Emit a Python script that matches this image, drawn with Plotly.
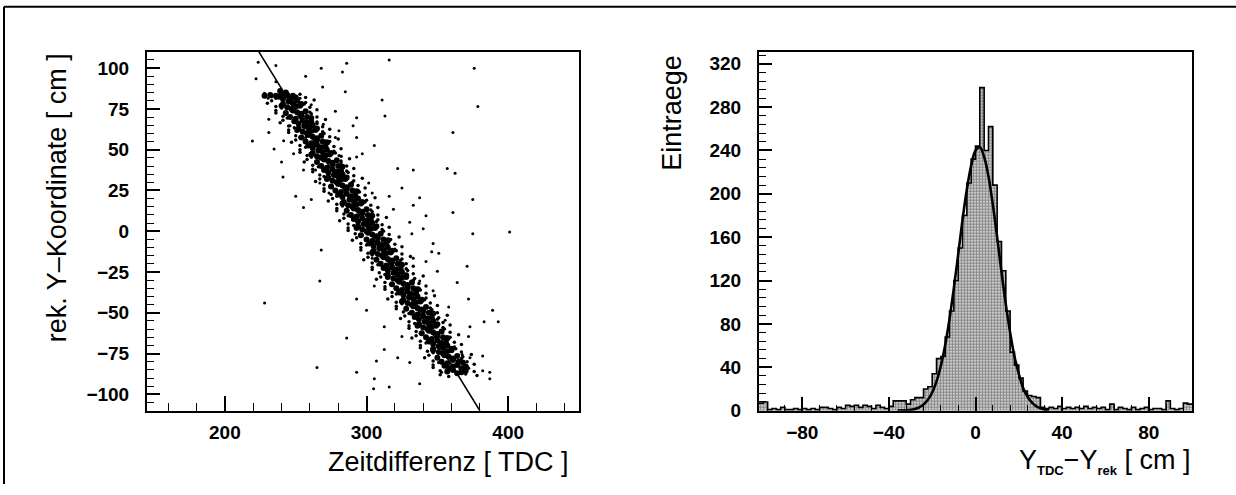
import plotly.graph_objects as go

# ---------------- left panel: scatter + fit line ----------------
fit_x = [224, 380]
fit_y = [110, -110]

# dense core of the band
core_x = [228, 232, 236, 240, 244, 248, 239, 243,
          238, 241, 244, 247, 250, 241, 245, 248, 251, 254, 240, 244, 247, 250, 253,
          243, 248, 251, 254, 257, 246, 250, 254, 258, 261, 249, 252, 255, 258, 261,
          252, 256, 259, 262, 265, 251, 255, 258, 261, 264, 254, 259, 262, 265, 268,
          257, 261, 265, 269, 272, 259, 262, 265, 268, 271, 262, 266, 269, 272, 275,
          261, 265, 268, 271, 274, 265, 270, 273, 276, 279, 268, 272, 276, 280, 283,
          270, 273, 276, 279, 282, 273, 277, 280, 283, 286, 272, 276, 279, 282, 285,
          275, 280, 283, 286, 289, 278, 282, 286, 290, 293, 280, 283, 286, 289, 292,
          284, 288, 291, 294, 297, 283, 287, 290, 293, 296, 286, 291, 294, 297, 300,
          289, 293, 297, 301, 304, 291, 294, 297, 300, 303, 294, 298, 301, 304, 307,
          293, 297, 300, 303, 306, 296, 301, 304, 307, 310, 300, 304, 308, 312, 315,
          302, 305, 308, 311, 314, 305, 309, 312, 315, 318, 304, 308, 311, 314, 317,
          307, 312, 315, 318, 321, 310, 314, 318, 322, 325, 312, 315, 318, 321, 324,
          315, 319, 322, 325, 328, 315, 319, 322, 325, 328, 318, 323, 326, 329, 332,
          321, 325, 329, 333, 336, 323, 326, 329, 332, 335, 326, 330, 333, 336, 339,
          325, 329, 332, 335, 338, 328, 333, 336, 339, 342, 332, 336, 340, 344, 347,
          334, 337, 340, 343, 346, 337, 341, 344, 347, 350, 336, 340, 343, 346, 349,
          339, 344, 347, 350, 353, 342, 346, 350, 354, 357, 344, 347, 350, 353, 356,
          347, 351, 354, 357, 360, 347, 351, 354, 357, 360, 350, 355, 358, 361, 364,
          353, 357, 361, 365, 368, 355, 358, 361, 364, 367, 370, 357, 361, 364, 367, 370]
core_y = [83, 83.5, 83, 84, 83.5, 83, 86, 85,
          82.5, 81, 83, 81.5, 82, 78, 79.5, 78.5, 80, 78, 77, 76, 75, 76.5, 77,
          72.5, 74, 73, 72, 73.5, 70, 69, 71, 70, 69.5, 67.5, 66, 68, 66.5, 67,
          63, 64.5, 63.5, 65, 63, 62, 61, 60, 61.5, 62, 57.5, 59, 58, 57, 58.5,
          55, 54, 56, 55, 54.5, 52.5, 51, 53, 51.5, 52, 48, 49.5, 48.5, 50, 48,
          47, 46, 45, 46.5, 47, 42.5, 44, 43, 42, 43.5, 40, 39, 41, 40, 39.5,
          37.5, 36, 38, 36.5, 37, 33, 34.5, 33.5, 35, 33, 32, 31, 30, 31.5, 32,
          27.5, 29, 28, 27, 28.5, 25, 24, 26, 25, 24.5, 22.5, 21, 23, 21.5, 22,
          18, 19.5, 18.5, 20, 18, 17, 16, 15, 16.5, 17, 12.5, 14, 13, 12, 13.5,
          10, 9, 11, 10, 9.5, 7.5, 6, 8, 6.5, 7, 3, 4.5, 3.5, 5, 3,
          2, 1, 0, 1.5, 2, -2.5, -1, -2, -3, -1.5, -5, -6, -4, -5, -5.5,
          -7.5, -9, -7, -8.5, -8, -12, -10.5, -11.5, -10, -12, -13, -14, -15, -13.5, -13,
          -17.5, -16, -17, -18, -16.5, -20, -21, -19, -20, -20.5, -22.5, -24, -22, -23.5, -23,
          -27, -25.5, -26.5, -25, -27, -28, -29, -30, -28.5, -28, -32.5, -31, -32, -33, -31.5,
          -35, -36, -34, -35, -35.5, -37.5, -39, -37, -38.5, -38, -42, -40.5, -41.5, -40, -42,
          -43, -44, -45, -43.5, -43, -47.5, -46, -47, -48, -46.5, -50, -51, -49, -50, -50.5,
          -52.5, -54, -52, -53.5, -53, -57, -55.5, -56.5, -55, -57, -58, -59, -60, -58.5, -58,
          -62.5, -61, -62, -63, -61.5, -65, -66, -64, -65, -65.5, -67.5, -69, -67, -68.5, -68,
          -72, -70.5, -71.5, -70, -72, -73, -74, -75, -73.5, -73, -77.5, -76, -77, -78, -76.5,
          -80, -81, -79, -80, -80.5, -82.5, -84, -83, -82, -84, -83, -86, -85, -87, -86.5, -85.5]

# fuzzy halo around the band
halo_x = [228, 233, 253, 257, 233, 236, 257, 263, 230, 236, 256, 260, 236, 240, 260, 265,
          236, 241, 261, 265, 241, 244, 265, 271, 239, 245, 265, 269, 245, 249, 269, 274,
          245, 250, 270, 274, 250, 253, 274, 280, 247, 253, 273, 277, 253, 257, 277, 282,
          253, 258, 278, 282, 258, 261, 282, 288, 256, 262, 282, 286, 262, 266, 286, 291,
          262, 267, 287, 291, 267, 270, 291, 297, 264, 270, 290, 294, 270, 274, 294, 299,
          270, 275, 295, 299, 276, 279, 300, 306, 273, 279, 299, 303, 279, 283, 303, 308,
          279, 284, 304, 308, 284, 287, 308, 314, 281, 287, 307, 311, 287, 291, 311, 316,
          287, 292, 312, 316, 293, 296, 317, 323, 290, 296, 316, 320, 296, 300, 320, 325,
          296, 301, 321, 325, 301, 304, 325, 331, 298, 304, 324, 328, 304, 308, 328, 333,
          304, 309, 329, 333, 310, 313, 334, 340, 307, 313, 333, 337, 313, 317, 337, 342,
          313, 318, 338, 342, 318, 321, 342, 348, 315, 321, 341, 345, 321, 325, 345, 350,
          321, 326, 346, 350, 327, 330, 351, 357, 324, 330, 350, 354, 330, 334, 354, 359,
          330, 335, 355, 359, 335, 338, 359, 365, 332, 338, 358, 362, 338, 342, 362, 367,
          338, 343, 363, 367, 344, 347, 368, 374, 341, 347, 367, 371, 347, 351, 371, 376,
          347, 352, 372, 376, 352, 358, 370, 378]
halo_y = [84.5, 82.5, 84, 82, 80, 81.5, 79, 80.5, 78.5, 76.5, 78, 76, 74, 75.5, 73, 74.5,
          72.5, 70.5, 72, 70, 68, 69.5, 67, 68.5, 66.5, 64.5, 66, 64, 62, 63.5, 61, 62.5,
          60.5, 58.5, 60, 58, 56, 57.5, 55, 56.5, 54.5, 52.5, 54, 52, 50, 51.5, 49, 50.5,
          48.5, 46.5, 48, 46, 44, 45.5, 43, 44.5, 42.5, 40.5, 42, 40, 38, 39.5, 37, 38.5,
          36.5, 34.5, 36, 34, 32, 33.5, 31, 32.5, 30.5, 28.5, 30, 28, 26, 27.5, 25, 26.5,
          24.5, 22.5, 24, 22, 20, 21.5, 19, 20.5, 18.5, 16.5, 18, 16, 14, 15.5, 13, 14.5,
          12.5, 10.5, 12, 10, 8, 9.5, 7, 8.5, 6.5, 4.5, 6, 4, 2, 3.5, 1, 2.5,
          0.5, -1.5, 0, -2, -4, -2.5, -5, -3.5, -5.5, -7.5, -6, -8, -10, -8.5, -11, -9.5,
          -11.5, -13.5, -12, -14, -16, -14.5, -17, -15.5, -17.5, -19.5, -18, -20, -22, -20.5, -23, -21.5,
          -23.5, -25.5, -24, -26, -28, -26.5, -29, -27.5, -29.5, -31.5, -30, -32, -34, -32.5, -35, -33.5,
          -35.5, -37.5, -36, -38, -40, -38.5, -41, -39.5, -41.5, -43.5, -42, -44, -46, -44.5, -47, -45.5,
          -47.5, -49.5, -48, -50, -52, -50.5, -53, -51.5, -53.5, -55.5, -54, -56, -58, -56.5, -59, -57.5,
          -59.5, -61.5, -60, -62, -64, -62.5, -65, -63.5, -65.5, -67.5, -66, -68, -70, -68.5, -71, -69.5,
          -71.5, -73.5, -72, -74, -76, -74.5, -77, -75.5, -77.5, -79.5, -78, -80, -82, -80.5, -83, -81.5,
          -83.5, -85.5, -84, -86, -88, -89, -87.5, -88.5]

# isolated points away from the band
out_x = [376, 378.6, 316, 286, 268, 283, 257, 269, 285, 311, 313, 293, 290.5, 361, 219.4,
         305.5, 234.7, 240, 241, 231, 231, 255.5, 357, 362.5, 333, 322, 325, 337.5, 375,
         361, 342, 333, 375, 401, 332, 347, 351, 371, 268, 267, 293, 228, 372, 389, 393,
         383, 373, 372, 312.5, 286, 312.5, 373, 382, 307, 293, 305.5, 305, 337.5, 265, 387,
         387, 353, 330.5, 322, 344, 325, 355.5, 347, 300, 305.5, 337.5, 347, 342, 333, 346,
         319, 304, 297, 330.5, 340, 319, 316, 304, 301.5, 293, 273.5, 261, 250, 255.5, 267,
         264, 280.5, 293, 293, 278, 297, 241.5, 246, 230.5, 222, 223.5, 236, 236, 253, 261,
         278, 269.5, 280.5, 257, 261, 248.5, 364, 350, 358, 316, 382, 367.5]
out_y = [100, 76.5, 105, 103, 100, 97.6, 95, 88.5, 85.5, 80.5, 70.6, 69.6, 64.6, 60.6, 55.3,
         52.6, 50.4, 42.4, 33.3, 60.6, 68.6, 37.5, 38.5, 35.5, 37.5, 38.5, 26.5, 20.5, 19.5,
         11.5, 9.5, 16, -1.5, -0.5, -1.5, -7.5, -13.5, -21.5, -11.5, -30.5, -41.5, -44, -41.5, -48.5, -55.5,
         -55.5, -58.5, -64.5, -58.5, -65.5, -72.5, -77.5, -76.5, -79.5, -86.5, -90.5, -96.5, -93.5, -83.5, -90.5,
         -86.5, -86.5, -80.5, -77.5, -68.5, -64.5, -54.5, -50.5, -48.5, -33.5, -30.5, -36.5, -18.5, -16.5, -12.5,
         -28.5, -16.5, -2.5, 5.5, 1.5, 13.5, 21.5, 23.5, 29.5, 21.5, 23.5, 19.5, 21.5, 14.5, 29.5,
         37.5, 46.5, 45.5, 57.5, 57.5, 47.5, 55.5, 64.6, 81.5, 93.5, 103.6, 101.6, 91.6, 81.5, 77.5,
         73.6, 65.6, 61.6, 57.5, 45.5, 47.5, -31.5, -24.5, -46.5, -95.5, -85.5, -75.5]

# ---------------- right panel: residual histogram + gauss fit ----------------
hist_start = -100
hist_width = 2
hist_counts = [7, 8, 1, 2, 1, 3, 1, 1, 2, 1,
               2, 1, 2, 1, 3, 3, 2, 1, 3, 2,
               5, 4, 5, 3, 5, 4, 2, 5, 3, 2,
               4, 9, 9, 9, 6, 10, 12, 12, 20, 22,
               34, 48, 50, 68, 92, 120, 150, 180, 210, 232,
               244, 298, 240, 262, 208, 156, 129, 92, 54, 42,
               30, 18, 14, 13, 12, 3, 2, 3, 2, 4,
               2, 3, 2, 3, 2, 4, 2, 3, 2, 3,
               1, 6, 1, 3, 2, 1, 3, 1, 2, 3,
               1, 2, 2, 1, 9, 2, 1, 2, 7, 6]

curve_x = [-36, -30, -28, -26, -24, -22, -20, -18, -16, -14, -12, -10, -8, -6, -4, -2, 0,
           2, 4, 6, 8, 10, 12, 14, 16, 18, 20, 22, 24, 26, 28, 30, 34]
curve_y = [0.1, 0.8, 1.6, 3.1, 5.7, 10, 16.8, 27, 41.4, 60.6, 84.7, 113, 144, 176, 204, 226, 240,
           243, 234, 216, 190, 160, 128, 98, 72, 50, 34, 21, 13, 7.6, 4.2, 2.2, 0.5]

# ---------------- figure ----------------
W, H = 1236, 495
BLACK = "black"
hist_edges = [hist_start + hist_width * i for i in range(len(hist_counts) + 1)]

fig = go.Figure()
fig.add_trace(go.Scatter(x=out_x, y=out_y, mode="markers",
                         marker=dict(size=3, color=BLACK), xaxis="x", yaxis="y"))
fig.add_trace(go.Scatter(x=halo_x, y=halo_y, mode="markers",
                         marker=dict(size=3.5, color=BLACK), xaxis="x", yaxis="y"))
fig.add_trace(go.Scatter(x=core_x, y=core_y, mode="markers",
                         marker=dict(size=6, color=BLACK), xaxis="x", yaxis="y"))
fig.add_trace(go.Scatter(x=fit_x, y=fit_y, mode="lines",
                         line=dict(color=BLACK, width=1.6), xaxis="x", yaxis="y"))

fig.add_trace(go.Scatter(x=hist_edges, y=hist_counts + [hist_counts[-1]], mode="lines",
                         line=dict(shape="hv", color=BLACK, width=1.6),
                         fill="tozeroy",
                         fillpattern=dict(shape=".", size=3, solidity=0.75,
                                          fgcolor="#111111", bgcolor="white"),
                         xaxis="x2", yaxis="y2"))
fig.add_trace(go.Scatter(x=curve_x, y=curve_y, mode="lines",
                         line=dict(color=BLACK, width=2.6, shape="spline"),
                         xaxis="x2", yaxis="y2"))

tickfont = dict(family="Liberation Sans", size=19, color=BLACK, weight="bold")
common = dict(showline=True, linewidth=2, linecolor=BLACK, mirror=True, ticks="inside",
              tickcolor=BLACK, tickwidth=1.6, showgrid=False, zeroline=False,
              tickfont=tickfont)

y_dom = [1 - 420 / H, 1 - 53 / H]
fig.update_layout(
    width=W, height=H, margin=dict(l=0, r=0, t=0, b=0), autosize=False,
    paper_bgcolor="white", plot_bgcolor="white", showlegend=False,
    xaxis=dict(domain=[147 / W, 579 / W], range=[145, 450], tick0=0, dtick=100, ticklen=15,
               anchor="y", ticklabelstandoff=4,
               minor=dict(dtick=20, tick0=0, ticklen=8, ticks="inside", tickcolor=BLACK, tickwidth=1.4),
               **common),
    yaxis=dict(domain=y_dom, range=[-110, 110], tick0=0, dtick=25, ticklen=13,
               anchor="x", ticklabelstandoff=12,
               minor=dict(dtick=5, tick0=0, ticklen=7, ticks="inside", tickcolor=BLACK, tickwidth=1.4),
               **common),
    xaxis2=dict(domain=[759 / W, 1192 / W], range=[-100, 100], tick0=0, dtick=40, ticklen=14,
                anchor="y2", ticklabelstandoff=4,
                minor=dict(dtick=8, tick0=0, ticklen=6, ticks="inside", tickcolor=BLACK, tickwidth=1.4),
                **common),
    yaxis2=dict(domain=y_dom, range=[0, 331], tick0=0, dtick=40, ticklen=13,
                anchor="x2", ticklabelstandoff=12,
                minor=dict(dtick=8, tick0=0, ticklen=7, ticks="inside", tickcolor=BLACK, tickwidth=1.4),
                **common),
)

title_font = dict(family="Liberation Sans", size=27, color=BLACK)
fig.add_annotation(text="rek. Y–Koordinate [ cm ]", x=57 / W, y=1 - 53 / H, xref="paper", yref="paper",
                   xanchor="center", yanchor="top", textangle=-90, showarrow=False, font=title_font)
fig.add_annotation(text="Zeitdifferenz [ TDC ]", x=571 / W, y=1 - 472 / H, xref="paper", yref="paper",
                   xanchor="right", yanchor="middle", showarrow=False, font=title_font)
fig.add_annotation(text="Eintraege", x=672 / W, y=1 - 54 / H, xref="paper", yref="paper",
                   xanchor="center", yanchor="top", textangle=-90, showarrow=False, font=title_font)
fig.add_annotation(
    text="Y<sub><span style='font-size:13px;font-weight:bold'>TDC</span></sub>−"
         "Y<sub><span style='font-size:13px;font-weight:bold'>rek</span></sub> [ cm ]",
    x=1193 / W, y=1 - 472 / H, xref="paper", yref="paper", xanchor="right", yanchor="middle",
    showarrow=False, font=title_font)

# outer page frame (top and left edges)
fig.add_shape(type="line", xref="paper", yref="paper", x0=4 / W, x1=1, y0=1 - 7 / H, y1=1 - 7 / H,
              line=dict(color=BLACK, width=2))
fig.add_shape(type="line", xref="paper", yref="paper", x0=4 / W, x1=4 / W, y0=0, y1=1 - 7 / H,
              line=dict(color=BLACK, width=2))

fig.write_html("out.html")
